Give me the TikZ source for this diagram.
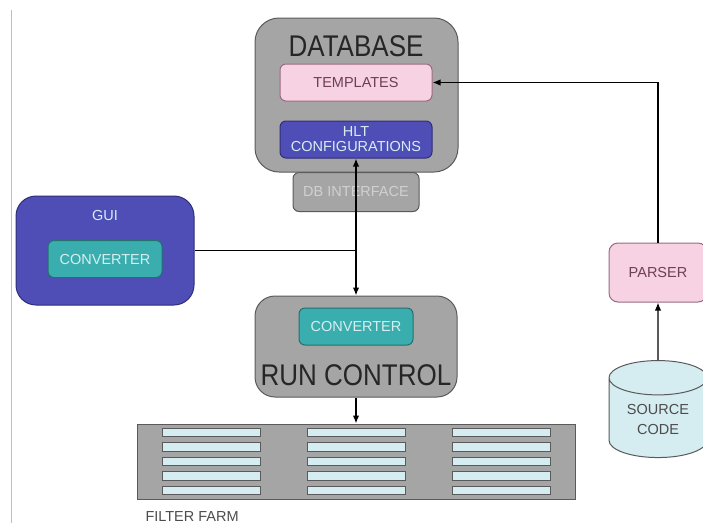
\documentclass[tikz,border=0pt]{standalone}
\usepackage{fontspec}
\setmainfont{Liberation Sans}
\usetikzlibrary{shapes,arrows.meta,positioning}

\definecolor{boxgray}{HTML}{A5A5A5}
\definecolor{edgegray}{HTML}{5A5A5A}
\definecolor{pinkfill}{HTML}{F6D2E2}
\definecolor{pinkedge}{HTML}{9A6A80}
\definecolor{pinktext}{HTML}{6E3F55}
\definecolor{bluefill}{HTML}{4E4EB6}
\definecolor{blueedge}{HTML}{2E2E7A}
\definecolor{tealfill}{HTML}{3AAEAE}
\definecolor{tealedge}{HTML}{25706F}
\definecolor{lighttext}{HTML}{D6EEF0}
\definecolor{icefill}{HTML}{D5ECF0}

\newcommand{\tallword}[1]{\scalebox{1}[1.15]{#1}}

\begin{document}
\begin{tikzpicture}[x=1pt,y=-1pt,>={Latex[length=8pt,width=6.5pt]},line width=1pt,
    smalltext/.style={font=\fontsize{14.5}{17}\selectfont},
    bigtext/.style={font=\fontsize{26}{30}\selectfont,text=black!85},
    graybox/.style={rectangle,rounded corners=20pt,draw=edgegray,fill=boxgray},
    innerbox/.style={rectangle,rounded corners=6pt,smalltext,minimum width=152pt,minimum height=37pt,align=center},
    pinkbox/.style={innerbox,draw=pinkedge,fill=pinkfill,text=pinktext},
    bluebox/.style={innerbox,draw=blueedge,fill=bluefill,text=lighttext},
    tealbox/.style={innerbox,draw=tealedge,fill=tealfill,text=lighttext,minimum width=114pt},
    barbox/.style={rectangle,draw=edgegray,fill=icefill,line width=0.8pt,minimum width=98pt,minimum height=8.5pt,inner sep=0pt},
    link/.style={line width=1.4pt,black}]
    \useasboundingbox (0,0) rectangle (703,523);

    % page edge
    \coordinate (edgetop) at (11,10);
    \coordinate (edgebot) at (11,523);
    \draw[black!25,line width=0.8pt] (edgetop) -- (edgebot);

    % database
    \node[graybox,rounded corners=6pt,minimum width=126pt,minimum height=39pt,smalltext,text=black!18](dbif) at (356,192) {DB INTERFACE};
    \node[graybox,rounded corners=24pt,minimum width=203pt,minimum height=154pt](db) at (356.5,95) {};
    \node[bigtext](dbtitle) at (356,46) {\tallword{DATABASE}};
    \node[pinkbox](tmpl) at (356,82.5) {TEMPLATES};
    \node[bluebox](hlt) at (356,139.5) {HLT\\[-2pt]CONFIGURATIONS};

    % gui
    \node[graybox,draw=blueedge,fill=bluefill,minimum width=178pt,minimum height=109pt](gui) at (105,250.5) {};
    \node[smalltext,text=lighttext](guititle) at (105,216) {GUI};
    \node[tealbox](guiconv) at (105,259) {CONVERTER};

    % run control
    \node[graybox,minimum width=202pt,minimum height=101pt](rc) at (356,346.5) {};
    \node[tealbox](rcconv) at (356,326.5) {CONVERTER};
    \node[bigtext](rctitle) at (356,375) {\tallword{RUN CONTROL}};

    % filter farm
    \node[rectangle,draw=edgegray,fill=boxgray,minimum width=438pt,minimum height=75pt](farm) at (356,461.5) {};
    \foreach \c/\x in {1/211,2/356,3/501}
        \foreach \r in {0,...,4}
            \node[barbox](bar-\c-\r) at (\x,432.5+14.5*\r) {};
    \node[smalltext,text=black!70,anchor=west,inner sep=0pt](farmlabel) at (145,516) {FILTER FARM};

    % parser and source
    \node[pinkbox,rounded corners=9pt,minimum width=98pt,minimum height=59pt](parser) at (658,272.5) {PARSER};
    \node[cylinder,shape border rotate=90,aspect=0.5,draw=edgegray,fill=icefill,minimum width=98pt,minimum height=97pt,smalltext,text=black!70,align=center](src) at (658,421) {\\[-9pt]SOURCE\\[3pt]CODE};

    % links
    \draw[link] (gui.east) -- (gui.east -| hlt.south);
    \draw[link,<->] (hlt.south) -- (rc.north);
    \draw[link,->] (rc.south) -- (farm.north);
    \draw[link,->] (src.north) -- (parser.south);
    \draw[link,->] (parser.north) |- (tmpl.east);
\end{tikzpicture}
\end{document}
